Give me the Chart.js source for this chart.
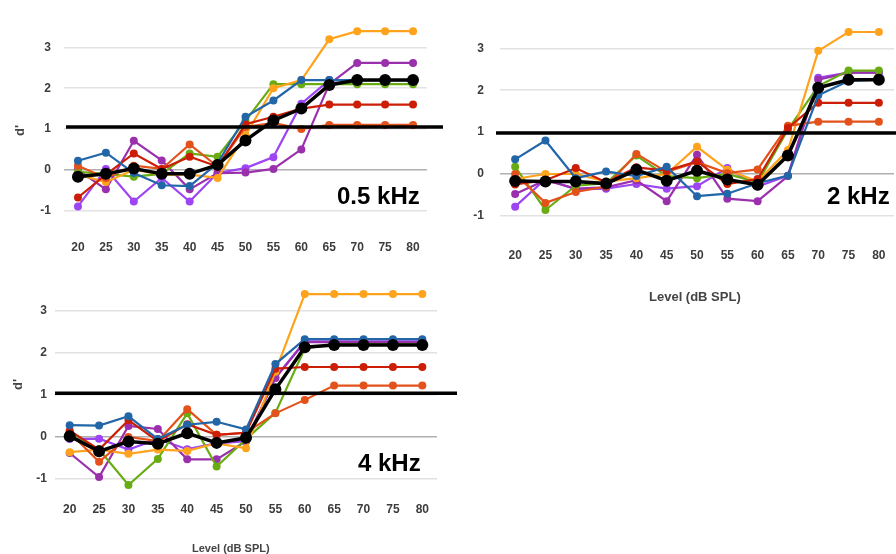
<!DOCTYPE html>
<html>
<head>
<meta charset="utf-8">
<script src="https://cdn.jsdelivr.net/npm/chart.js@4.4.1/dist/chart.umd.min.js"></script>
<style>
  html, body { margin: 0; padding: 0; background: #fff; overflow: hidden; width: 896px; height: 554px; }
  canvas { position: absolute; }
  .lbl { position: absolute; font-family: 'Liberation Sans', Arial, sans-serif; white-space: nowrap; line-height: 1; }
  .freq { font-size: 24px; font-weight: bold; color: #000; }
  .axis { font-size: 12px; font-weight: bold; color: #444; }
  .dprime { transform: rotate(-90deg); transform-origin: center; font-size: 13px; }
</style>
</head>
<body>
<canvas id="c05" width="450" height="260" style="left:0;top:0"></canvas>
<canvas id="c2" width="450" height="310" style="left:450px;top:0"></canvas>
<canvas id="c4" width="460" height="284" style="left:0;top:270px"></canvas>

<div class="lbl axis dprime" style="left:14px;top:124px">d'</div>
<div class="lbl axis dprime" style="left:12px;top:378px">d'</div>
<div class="lbl freq" style="left:337px;top:184px">0.5 kHz</div>
<div class="lbl freq" style="left:827px;top:184px">2 kHz</div>
<div class="lbl freq" style="left:358px;top:451px">4 kHz</div>
<div class="lbl axis" style="left:649px;top:290px;font-size:13px">Level (dB SPL)</div>
<div class="lbl axis" style="left:192px;top:543px;font-size:11px">Level (dB SPL)</div>

<script>
// x categories (dB SPL) and y tick labels (d')
const levels = ['20', '25', '30', '35', '40', '45', '50', '55', '60', '65', '70', '75', '80'];
const yTicks = [-1, 0, 1, 2, 3];

// d' = 1 criterion line, as placed in each panel
const criterion = [1.05, 0.98, 1.04];

// 0.5 kHz
const blue05      = [0.22, 0.42, -0.08, -0.38, -0.40, 0.16, 1.30, 1.70, 2.20, 2.20, 2.20, 2.20, 2.20];
const red05       = [-0.68, -0.12, 0.40, 0.02, 0.32, 0.08, 1.12, 1.30, 1.50, 1.60, 1.60, 1.60, 1.60];
const orangeRed05 = [0.10, -0.20, 0.10, 0.02, 0.62, 0.08, 1.05, 1.15, 1.00, 1.10, 1.10, 1.10, 1.10];
const orange05    = [-0.12, -0.30, 0.00, -0.12, -0.12, -0.20, 0.85, 2.00, 2.20, 3.20, 3.40, 3.40, 3.40];
const green05     = [-0.05, -0.10, -0.17, -0.10, 0.40, 0.32, 1.20, 2.10, 2.10, 2.10, 2.10, 2.10, 2.10];
const purple05    = [0.00, -0.48, 0.71, 0.23, -0.48, -0.08, -0.07, 0.02, 0.50, 2.10, 2.62, 2.62, 2.62];
const violet05    = [-0.90, 0.02, -0.78, -0.20, -0.78, -0.08, 0.04, 0.31, 1.62, 2.20, 2.20, 2.20, 2.20];
const mean05      = [-0.17, -0.10, 0.03, -0.10, -0.10, 0.12, 0.72, 1.21, 1.50, 2.08, 2.20, 2.20, 2.20];

// 2 kHz
const blue2       = [0.35, 0.80, -0.10, 0.06, -0.05, 0.17, -0.53, -0.47, -0.22, -0.04, 1.88, 2.22, 2.25];
const red2        = [-0.25, -0.15, 0.14, -0.20, 0.16, 0.08, 0.30, -0.24, -0.12, 1.10, 1.70, 1.70, 1.70];
const orangeRed2  = [0.00, -0.69, -0.43, -0.30, 0.48, 0.05, 0.28, 0.02, 0.11, 1.15, 1.25, 1.25, 1.25];
const orange2     = [-0.12, 0.00, 0.00, -0.18, -0.10, 0.00, 0.65, 0.10, -0.18, 0.57, 2.94, 3.39, 3.39];
const green2      = [0.17, -0.86, -0.28, -0.22, 0.44, -0.05, -0.10, 0.00, -0.20, 1.06, 2.10, 2.47, 2.47];
const purple2     = [-0.48, -0.15, -0.35, -0.32, -0.15, -0.65, 0.46, -0.59, -0.65, -0.05, 2.25, 2.42, 2.42];
const violet2     = [-0.78, -0.12, -0.37, -0.35, -0.24, -0.35, -0.29, 0.14, -0.30, -0.04, 2.30, 2.42, 2.42];
const mean2       = [-0.17, -0.18, -0.18, -0.23, 0.10, -0.16, 0.08, -0.13, -0.26, 0.44, 2.06, 2.25, 2.25];

// 4 kHz
const blue4       = [0.28, 0.27, 0.49, -0.05, 0.29, 0.36, 0.18, 1.73, 2.32, 2.32, 2.32, 2.32, 2.32];
const red4        = [0.15, -0.30, 0.40, -0.10, 0.30, 0.05, 0.10, 1.62, 1.66, 1.66, 1.66, 1.66, 1.66];
const orangeRed4  = [0.10, -0.59, 0.00, -0.10, 0.66, 0.05, 0.10, 0.56, 0.88, 1.22, 1.22, 1.22, 1.22];
const orange4     = [-0.36, -0.30, -0.40, -0.30, -0.33, -0.15, -0.27, 1.55, 3.39, 3.39, 3.39, 3.39, 3.39];
const green4      = [0.12, -0.30, -1.14, -0.52, 0.56, -0.70, -0.05, 0.57, 2.10, 2.20, 2.20, 2.20, 2.20];
const purple4     = [-0.38, -0.95, 0.26, 0.19, -0.53, -0.53, -0.10, 1.40, 2.25, 2.25, 2.25, 2.25, 2.25];
const violet4     = [-0.05, -0.04, -0.30, -0.05, -0.29, -0.15, -0.10, 1.41, 2.27, 2.27, 2.27, 2.27, 2.27];
const mean4       = [0.02, -0.34, -0.11, -0.16, 0.09, -0.14, -0.02, 1.13, 2.13, 2.18, 2.18, 2.18, 2.18];

const colors = ['#2266a8', '#cc1e06', '#e4521c', '#ffa31c', '#68ac12', '#9a30ac', '#9d45f3'];

// black line at d' = 1, running a bit past the plot on the right
const criterionLine = {
    id: 'criterionLine',
    afterDatasetsDraw(chart, args, opts) {
        const area = chart.chartArea;
        const y = chart.scales.y.getPixelForValue(opts.value);
        const ctx = chart.ctx;
        ctx.save();
        ctx.strokeStyle = '#000';
        ctx.lineWidth = 3.5;
        ctx.beginPath();
        ctx.moveTo(area.left + opts.from, y);
        ctx.lineTo(area.right + opts.to, y);
        ctx.stroke();
        ctx.restore();
    }
};

function makePanel(id, series, mean, geo) {
    const canvas = document.getElementById(id);
    const datasets = series.map((d, i) => ({
        data: d,
        borderColor: colors[i],
        backgroundColor: colors[i],
        pointBackgroundColor: colors[i],
        borderWidth: 2.2,
        pointRadius: 4,
        pointBorderWidth: 0,
        order: 1 + i
    }));
    datasets.unshift({
        data: mean,
        borderColor: '#000',
        backgroundColor: '#000',
        pointBackgroundColor: '#000',
        borderWidth: 3.5,
        pointRadius: 6,
        pointBorderWidth: 0,
        order: 0
    });

    const tickFont = { family: "'Liberation Sans', Arial, sans-serif", size: 12, weight: 'bold' };

    return new Chart(canvas, {
        type: 'line',
        data: { labels: levels, datasets: datasets },
        options: {
            responsive: false,
            animation: false,
            layout: { padding: { left: 0, top: geo.top, right: canvas.width - geo.right, bottom: 0 } },
            plugins: {
                legend: { display: false },
                tooltip: { enabled: false },
                criterionLine: { value: geo.criterion, from: geo.from, to: geo.to }
            },
            scales: {
                x: {
                    offset: true,
                    grid: { display: false, drawTicks: false },
                    border: { display: false },
                    ticks: { font: tickFont, color: '#3c3c3c', padding: geo.xPad, maxRotation: 0, autoSkip: false },
                    afterFit: s => { s.height = canvas.height - geo.bottom; }
                },
                y: {
                    min: geo.yMin,
                    max: 3.6,
                    afterBuildTicks: s => { s.ticks = yTicks.map(v => ({ value: v })); },
                    grid: {
                        drawTicks: false,
                        lineWidth: 1.5,
                        color: c => c.tick && c.tick.value === 0 ? '#b0b0b0' : '#e2e2e2'
                    },
                    border: { display: false },
                    ticks: { font: tickFont, color: '#3c3c3c', padding: geo.yPad },
                    afterFit: s => { s.width = geo.left; }
                }
            }
        },
        plugins: [criterionLine]
    });
}

makePanel('c05',
    [blue05, red05, orangeRed05, orange05, green05, purple05, violet05], mean05,
    { left: 64, right: 427, top: 23, bottom: 235, yMin: -1.6, xPad: 5, yPad: 13,
      criterion: criterion[0], from: 2, to: 16 });

makePanel('c2',
    [blue2, red2, orangeRed2, orange2, green2, purple2, violet2], mean2,
    { left: 50, right: 448, top: 10.7, bottom: 241, yMin: -1.6, xPad: 7, yPad: 16,
      criterion: criterion[1], from: -4, to: 10 });

makePanel('c4',
    [blue4, red4, orangeRed4, orange4, green4, purple4, violet4], mean4,
    { left: 55, right: 437, top: 5, bottom: 226, yMin: -1.4, xPad: 6, yPad: 8,
      criterion: criterion[2], from: 0, to: 20 });
</script>
</body>
</html>
